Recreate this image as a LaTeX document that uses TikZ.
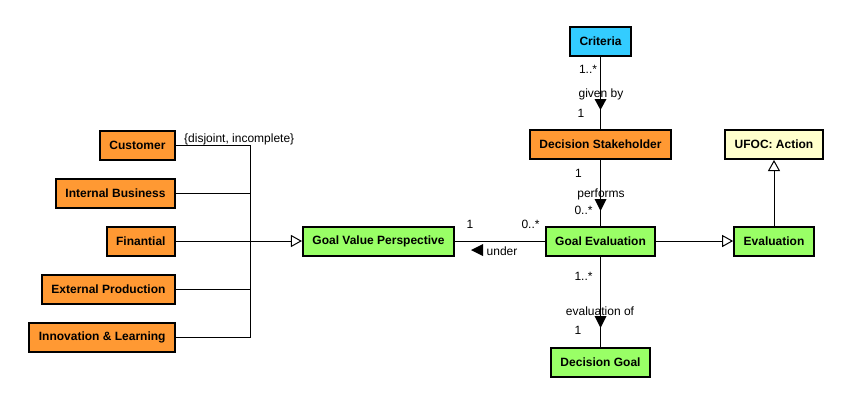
\documentclass[tikz,border=0pt]{standalone}
\usepackage{fontspec}
\setmainfont{Liberation Sans}
\usetikzlibrary{arrows.meta}
\definecolor{critblue}{RGB}{51,204,255}
\definecolor{stakeorange}{RGB}{255,153,51}
\definecolor{goalgreen}{RGB}{153,255,102}
\definecolor{ufocyellow}{RGB}{255,255,204}

\begin{document}
\begin{tikzpicture}[x=1pt, y=-1pt,
    cls/.style={draw, line width=2pt, font=\fontsize{12}{14}\selectfont\bfseries,
      inner xsep=9.5pt, minimum height=29pt},
    lbl/.style={font=\fontsize{12}{14}\selectfont, inner sep=0pt},
    conn/.style={line width=1pt},
    gen/.style={conn, -{Triangle[open, fill=white, width=12pt, length=11pt]}}]
    \useasboundingbox (0,0) rectangle (848,402);

    % Classes
    \node[cls, fill=critblue] (crit) at (600.5,41) {Criteria};
    \node[cls, fill=stakeorange] (ds) at (600.5,144.5) {Decision Stakeholder};
    \node[cls, fill=ufocyellow] (ufoc) at (774,144.5) {UFOC: Action};
    \node[cls, fill=goalgreen] (gvp) at (378.5,241) {Goal Value Perspective};
    \node[cls, fill=goalgreen] (ge) at (600.5,241) {Goal Evaluation};
    \node[cls, fill=goalgreen] (eval) at (774,241) {Evaluation};
    \node[cls, fill=goalgreen] (dg) at (600.5,362.5) {Decision Goal};

    % Perspectives
    \foreach \nm/\txt/\y in {cust/Customer/145, intb/Internal Business/193,
        fin/Finantial/241, extp/External Production/289, inno/Innovation \& Learning/337} {
      \node[cls, fill=stakeorange, anchor=east] (\nm) at (176,\y) {\txt};
    }

    % Generalization set
    \coordinate (join) at (250,241);
    \foreach \nm in {cust, inno} {
      \draw[conn] (\nm) -| (join);
    }
    \foreach \nm in {intb, extp} {
      \draw[conn] (\nm) -- (\nm -| join);
    }
    \draw[gen] (fin) -- (gvp);
    \node[lbl, anchor=west] (disj) at (184,139) {\{disjoint, incomplete\}};

    % Generalizations
    \draw[gen] (ge) -- (eval);
    \draw[gen] (eval) -- (ufoc);

    % Associations
    \draw[conn] (crit) -- (ds);
    \node[lbl] (m1) at (588,69) {1..*};
    \node[lbl] (givenby) at (601,94) {given by};
    \node[lbl] (m2) at (581,113) {1};
    \fill (594.5,99) -- (606.5,99) -- (600.5,110) -- cycle;

    \draw[conn] (ds) -- (ge);
    \node[lbl] (m3) at (578.5,173) {1};
    \node[lbl] (performs) at (601,194) {performs};
    \node[lbl] (m4) at (583.5,210) {0..*};
    \fill (594.5,199) -- (606.5,199) -- (600.5,211) -- cycle;

    \draw[conn] (ge) -- (gvp);
    \node[lbl] (m5) at (470,224) {1};
    \node[lbl] (m6) at (530.5,224) {0..*};
    \node[lbl] (under) at (502,251) {under};
    \fill (483,244) -- (483,256) -- (471,250) -- cycle;

    \draw[conn] (ge) -- (dg);
    \node[lbl] (m7) at (583.5,276) {1..*};
    \node[lbl] (evalof) at (600,311) {evaluation of};
    \node[lbl] (m8) at (578,330) {1};
    \fill (594.5,316) -- (606.5,316) -- (600.5,328) -- cycle;
\end{tikzpicture}
\end{document}
